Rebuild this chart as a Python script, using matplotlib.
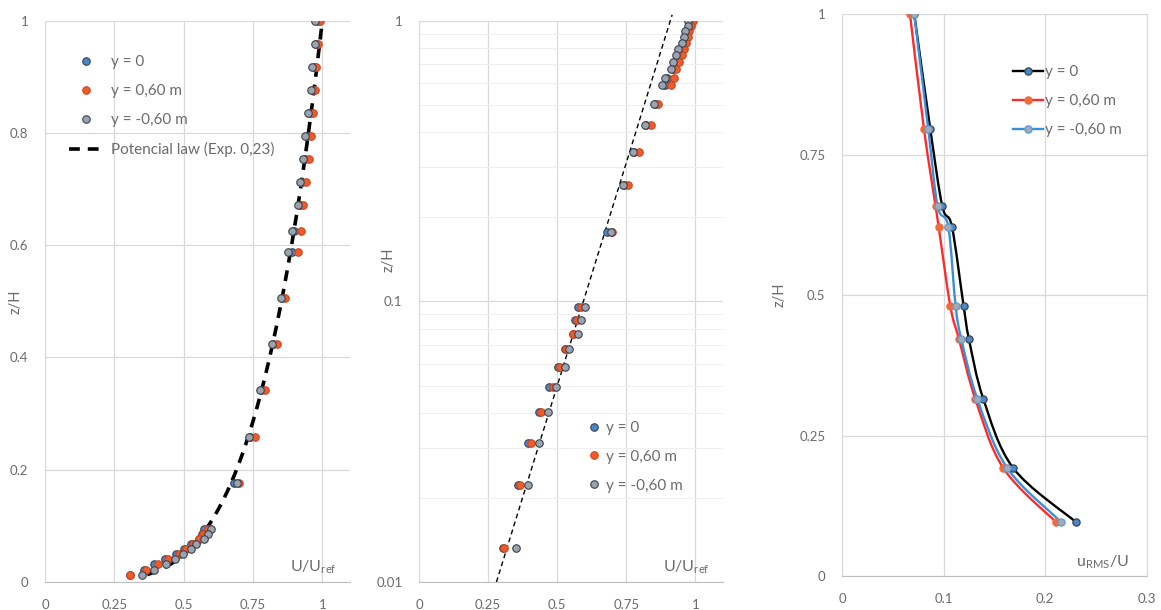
import numpy as np
import matplotlib
matplotlib.use('Agg')
import matplotlib.pyplot as plt
from matplotlib.path import Path
from matplotlib.patches import PathPatch
from matplotlib.lines import Line2D

plt.rcParams['font.family'] = ['Lato', 'DejaVu Sans']
plt.rcParams['mathtext.fontset'] = 'custom'
plt.rcParams['mathtext.rm'] = 'Lato'

TXT = '#6b6b6b'
GRID = '#d9d9d9'
C_BLUE = '#4a86c8'
C_RED = '#f25a2a'
C_GREY = '#9ba4ae'
EDGE = '#3a4250'

# mean velocity profiles (z/H, U/Uref)
z_vel = [1.000, 0.959, 0.918, 0.876, 0.835, 0.794, 0.753, 0.712, 0.671, 0.625,
         0.588, 0.506, 0.424, 0.342, 0.259, 0.177, 0.0952, 0.0857, 0.0767, 0.0675,
         0.0585, 0.0494, 0.0405, 0.0312, 0.0222, 0.0132]
u_y0 = [0.985, 0.978, 0.970, 0.965, 0.955, 0.945, 0.937, 0.926, 0.918, 0.898,
        0.891, 0.855, 0.822, 0.778, 0.740, 0.680, 0.575, 0.566, 0.557, 0.527,
        0.501, 0.471, 0.434, 0.394, 0.357, 0.305]
u_yp60 = [0.990, 0.985, 0.978, 0.973, 0.968, 0.958, 0.952, 0.940, 0.930, 0.923,
          0.911, 0.866, 0.838, 0.795, 0.757, 0.700, 0.586, 0.571, 0.557, 0.533,
          0.510, 0.483, 0.443, 0.406, 0.364, 0.306]
u_ym60 = [0.973, 0.973, 0.963, 0.958, 0.950, 0.938, 0.931, 0.920, 0.913, 0.889,
          0.878, 0.850, 0.818, 0.775, 0.737, 0.694, 0.599, 0.586, 0.574, 0.544,
          0.527, 0.497, 0.468, 0.435, 0.394, 0.350]

# power law fit
law_exp = 0.23
law_zmin = 0.013

# log-law guide on the semilog panel (end points)
loglaw_u = [0.28, 0.916]
loglaw_z = [0.01, 1.05]

# turbulence intensity profiles (z/H, uRMS/U)
z_rms = [0.096, 0.192, 0.3155, 0.4217, 0.480, 0.6215, 0.658, 0.795, 1.000]
rms_y0 = [0.2302, 0.1685, 0.1390, 0.1249, 0.1197, 0.1082, 0.0987, 0.0869, 0.0711]
rms_yp60 = [0.2105, 0.1587, 0.1311, 0.1151, 0.1066, 0.0951, 0.0921, 0.0807, 0.0669]
rms_ym60 = [0.2157, 0.1626, 0.1331, 0.1174, 0.1118, 0.1046, 0.0941, 0.0849, 0.0711]

labels = ['y = 0', 'y = 0,60 m', 'y = -0,60 m']


def smooth_path(xs, ys):
    # Catmull-Rom style curve through the points, as cubic beziers
    p = np.column_stack([xs, ys])
    n = len(p)
    verts = [p[0]]
    codes = [Path.MOVETO]
    for i in range(n - 1):
        p0 = p[i - 1] if i > 0 else p[i]
        p3 = p[i + 2] if i + 2 < n else p[i + 1]
        c1 = p[i] + (p[i + 1] - p0) / 6.0
        c2 = p[i + 1] - (p3 - p[i]) / 6.0
        verts += [c1, c2, p[i + 1]]
        codes += [Path.CURVE4] * 3
    return Path(verts, codes)


def style_axes(ax):
    ax.set_facecolor('white')
    for s in ['top', 'right']:
        ax.spines[s].set_visible(False)
    ax.spines['left'].set_color(GRID)
    ax.spines['bottom'].set_color('#bfbfbf')
    ax.grid(True, color=GRID, lw=0.9)
    ax.set_axisbelow(True)
    ax.tick_params(length=0, colors=TXT, labelsize=9.5)
    ax.tick_params(axis='x', pad=12)
    ax.tick_params(axis='y', pad=12)


fig = plt.figure(figsize=(11.61, 6.10), dpi=100)
fig.patch.set_facecolor('white')

ms = 5.4
mk = dict(marker='o', ls='none', ms=ms, mew=0.8, mec=EDGE)
leg_kw = dict(frameon=False, fontsize=11, labelcolor=TXT, labelspacing=0.98,
              borderaxespad=0, loc='upper left')

# ---- panel 1: linear profile + power law
ax1 = fig.add_axes([0.0388, 0.0459, 0.2627, 0.9201])
style_axes(ax1)
ax1.plot(u_y0, z_vel, mfc=C_BLUE, label=labels[0], zorder=3, **mk)
ax1.plot(u_yp60, z_vel, mfc=C_RED, label=labels[1], zorder=4, **dict(mk, mec='#c8461f'))
ax1.plot(u_ym60, z_vel, mfc=C_GREY, label=labels[2], zorder=5, **mk)
zz = np.linspace(law_zmin, 1.0, 200)
ax1.plot(zz ** law_exp, zz, color='black', lw=2.6, dashes=(3, 2.2),
         label='Potencial law (Exp. 0,23)', zorder=2)
ax1.set_xlim(0, 1.1)
ax1.set_ylim(0, 1)
ax1.set_xticks([0, 0.25, 0.5, 0.75, 1])
ax1.set_xticklabels(['0', '0.25', '0.5', '0.75', '1'])
ax1.set_yticks([0, 0.2, 0.4, 0.6, 0.8, 1])
ax1.set_yticklabels(['0', '0.2', '0.4', '0.6', '0.8', '1'])
ax1.set_ylabel('z/H', color=TXT, fontsize=10.5)
ax1.yaxis.set_label_coords(-0.075, 0.5)
ax1.text(0.957, 0.027, r'U/U$_{\mathregular{ref}}$', transform=ax1.transAxes,
         ha='right', va='center', color=TXT, fontsize=11.5)
ax1.legend(bbox_to_anchor=(0.06, 0.949), handlelength=2.2, handletextpad=0.5,
           **leg_kw)

# ---- panel 2: semilog profile
ax2 = fig.add_axes([0.361, 0.0459, 0.2617, 0.9201])
style_axes(ax2)
ax2.set_yscale('log')
ax2.grid(True, which='minor', axis='y', color='#efefef', lw=0.8)
ax2.plot(u_y0, z_vel, mfc=C_BLUE, label=labels[0], zorder=3, **mk)
ax2.plot(u_yp60, z_vel, mfc=C_RED, label=labels[1], zorder=4, **dict(mk, mec='#c8461f'))
ax2.plot(u_ym60, z_vel, mfc=C_GREY, label=labels[2], zorder=5, **mk)
ax2.plot(loglaw_u, loglaw_z, color='black', lw=1.0, dashes=(3.5, 2.5),
         zorder=2, clip_on=False)
ax2.set_xlim(0, 1.1)
ax2.set_ylim(0.01, 1)
ax2.set_xticks([0, 0.25, 0.5, 0.75, 1])
ax2.set_xticklabels(['0', '0.25', '0.5', '0.75', '1'])
ax2.set_yticks([0.01, 0.1, 1])
ax2.set_yticklabels(['0.01', '0.1', '1'])
ax2.yaxis.set_minor_formatter(matplotlib.ticker.NullFormatter())
ax2.tick_params(which='minor', length=0)
ax2.set_ylabel('z/H', color=TXT, fontsize=10.5)
ax2.yaxis.set_label_coords(-0.079, 0.574)
ax2.text(0.957, 0.027, r'U/U$_{\mathregular{ref}}$', transform=ax2.transAxes,
         ha='right', va='center', color=TXT, fontsize=11.5)
ax2.legend(bbox_to_anchor=(0.54, 0.298), handlelength=0.6, handletextpad=0.5,
           **leg_kw)

# ---- panel 3: turbulence intensity
ax3 = fig.add_axes([0.7252, 0.0557, 0.2627, 0.9213])
style_axes(ax3)
ax3.spines['right'].set_visible(True)
ax3.spines['right'].set_color(GRID)
rms_series = [
    (rms_y0, 'black', C_BLUE, EDGE),
    (rms_yp60, '#ff2a2a', '#f26a3a', '#f26a3a'),
    (rms_ym60, '#3a8fd9', '#a3aab2', '#5a9ad8'),
]
handles = []
for i, (vals, lc, fc, ec) in enumerate(rms_series):
    ax3.add_patch(PathPatch(smooth_path(vals, z_rms), fc='none', ec=lc, lw=1.7,
                            zorder=2 + i))
    ax3.plot(vals, z_rms, marker='o', ls='none', ms=5.2, mfc=fc, mec=ec,
             mew=0.9, zorder=5 + i)
    handles.append(Line2D([], [], color=lc, lw=1.7, marker='o', ms=5.2,
                          mfc=fc, mec=ec, mew=0.9))
ax3.set_xlim(0, 0.3)
ax3.set_ylim(0, 1)
ax3.set_xticks([0, 0.1, 0.2, 0.3])
ax3.set_xticklabels(['0', '0.1', '0.2', '0.3'])
ax3.set_yticks([0, 0.25, 0.5, 0.75, 1])
ax3.set_yticklabels(['0', '0.25', '0.5', '0.75', '1'])
ax3.set_ylabel('z/H', color=TXT, fontsize=10.5)
ax3.yaxis.set_label_coords(-0.18, 0.5)
ax3.text(0.941, 0.025, r'u$_{\mathregular{RMS}}$/U', transform=ax3.transAxes,
         ha='right', va='center', color=TXT, fontsize=11.5)
ax3.legend(handles, labels, bbox_to_anchor=(0.54, 0.92), handlelength=2.0,
           handletextpad=0.1, **leg_kw)

fig.savefig('out.png', dpi=100, facecolor='white')
